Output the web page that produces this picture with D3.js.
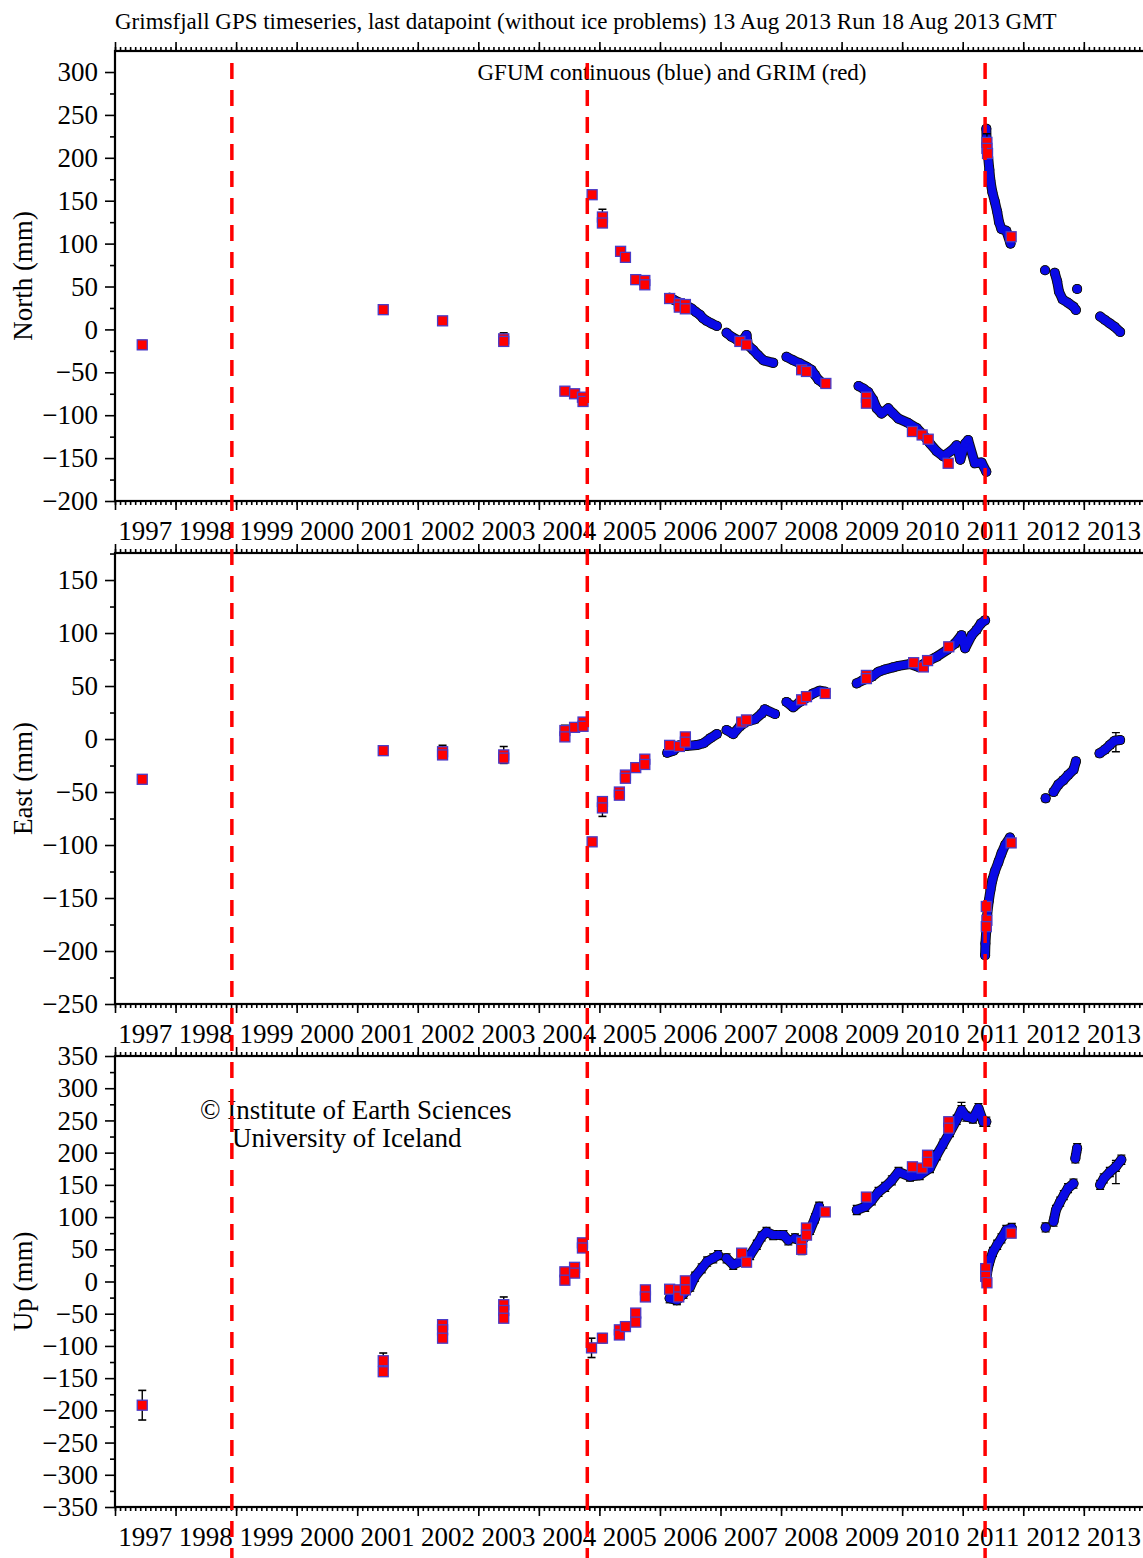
<!DOCTYPE html>
<html><head><meta charset="utf-8">
<script src="https://cdn.jsdelivr.net/npm/d3@7"></script>
<style>
body{margin:0;background:#fff}
svg{display:block}
text{font-family:"Liberation Serif","Times New Roman",serif;fill:#000}
</style>
</head><body>
<svg id="chart" width="1143" height="1558"></svg>
<script>
// ---------------- text ----------------
const titleText = "Grimsfjall GPS timeseries, last datapoint (without ice problems) 13 Aug 2013 Run 18 Aug 2013 GMT";
const subtitleText = "GFUM continuous (blue) and GRIM (red)";
const creditLines = ["\u00A9 Institute of Earth Sciences", "University of Iceland"];
const yLabels = ["North (mm)", "East (mm)", "Up (mm)"];

// ---------------- ticks ----------------
const yearLabels = [1997,1998,1999,2000,2001,2002,2003,2004,2005,2006,2007,2008,2009,2010,2011,2012,2013];
const northTicks = [-200,-150,-100,-50,0,50,100,150,200,250,300];
const eastTicks = [-250,-200,-150,-100,-50,0,50,100,150];
const upTicks = [-350,-300,-250,-200,-150,-100,-50,0,50,100,150,200,250,300,350];

// eruption markers (decimal year)
const eruptions = [1998.93, 2004.80, 2011.37];

// ---------------- GFUM continuous (blue): segments of [year, mm] ----------------
const gfumNorth = [
  [[2006.16,37],[2006.24,34],[2006.33,31],[2006.44,28],[2006.52,24.5],[2006.60,20],[2006.66,17],[2006.71,13],[2006.77,10],[2006.85,7],[2006.94,4]],
  [[2007.10,-4],[2007.18,-8.5],[2007.27,-12],[2007.35,-14],[2007.43,-6.5],[2007.45,-18],[2007.54,-24],[2007.62,-30],[2007.71,-36],[2007.87,-39]],
  [[2008.09,-32],[2008.20,-36],[2008.31,-39.5],[2008.42,-43.5],[2008.50,-47],[2008.56,-53],[2008.62,-59],[2008.70,-63]],
  [[2009.28,-66],[2009.36,-69],[2009.44,-73],[2009.52,-82],[2009.58,-92],[2009.66,-98],[2009.77,-92],[2009.85,-98],[2009.94,-104],
   [2010.10,-109],[2010.24,-115],[2010.35,-123],[2010.46,-133],[2010.57,-142],[2010.68,-148],[2010.82,-141],[2010.90,-135],
   [2010.96,-152],[2011.04,-133],[2011.09,-129],[2011.20,-156],[2011.31,-155],[2011.39,-166]],
  [[2011.39,234],[2011.395,217],[2011.42,201],[2011.44,186],[2011.46,172],[2011.49,160],[2011.53,149],[2011.57,137],[2011.60,125],
   [2011.64,117],[2011.72,115],[2011.79,100]],
  [[2012.36,69]],
  [[2012.52,66],[2012.56,56],[2012.59,44],[2012.65,35],[2012.74,31],[2012.83,26.5],[2012.87,22.6]],
  [[2012.89,47]],
  [[2013.27,15],[2013.35,11],[2013.43,7],[2013.51,3],[2013.60,-3]]
];
const gfumEast = [
  [[2006.12,-13],[2006.22,-11],[2006.32,-6],[2006.44,-6.6],[2006.61,-5.7],[2006.72,-4],[2006.83,0.7],[2006.94,4.7]],
  [[2007.10,8.5],[2007.21,4.7],[2007.32,12],[2007.43,16.3],[2007.57,18.6],[2007.68,24],[2007.73,28],[2007.90,23.6]],
  [[2008.09,35],[2008.20,30],[2008.31,35],[2008.42,39],[2008.53,43],[2008.64,45.6],[2008.73,44.6]],
  [[2009.25,52.5],[2009.36,55.7],[2009.50,58.8],[2009.61,63.5],[2009.72,65.7],[2009.85,67.6],[2009.94,69],
   [2010.13,70.8],[2010.27,68],[2010.41,73],[2010.57,77.6],[2010.74,84],[2010.87,90],[2010.98,98],[2011.04,85.6],
   [2011.15,98],[2011.23,103],[2011.30,109],[2011.37,112]],
  [[2011.37,-204],[2011.375,-193],[2011.39,-180],[2011.40,-168],[2011.43,-153],[2011.46,-142],[2011.49,-133],[2011.53,-125],
   [2011.59,-116],[2011.64,-108],[2011.70,-100],[2011.78,-93]],
  [[2012.37,-56]],
  [[2012.50,-50],[2012.58,-43],[2012.66,-39],[2012.74,-34],[2012.83,-29],[2012.87,-21]],
  [[2013.26,-13.5],[2013.35,-10],[2013.43,-5.7],[2013.51,-1.6],[2013.60,-1]]
];
const gfumUp = [
  [[2006.16,-26],[2006.28,-29],[2006.39,-19],[2006.50,-8],[2006.58,7.5],[2006.69,20.5],[2006.78,31],[2006.88,36],[2006.96,41]],
  [[2007.10,36],[2007.21,26],[2007.38,33],[2007.49,41],[2007.60,57],[2007.68,70],[2007.76,77],[2007.87,72],[2008.04,72],[2008.12,64]],
  [[2008.23,67],[2008.34,62],[2008.48,80],[2008.56,98],[2008.63,116]],
  [[2009.25,111],[2009.39,116],[2009.50,126],[2009.61,139],[2009.72,147],[2009.83,157],[2009.94,170],
   [2010.13,163],[2010.29,165],[2010.46,176],[2010.57,196],[2010.68,214],[2010.79,232],[2010.90,251],[2010.98,266],
   [2011.06,256],[2011.17,253],[2011.26,269],[2011.34,248],[2011.39,248]],
  [[2011.39,2],[2011.41,18],[2011.45,33],[2011.50,46],[2011.57,57],[2011.64,67],[2011.72,80],[2011.81,83]],
  [[2012.37,84]],
  [[2012.50,93],[2012.54,111],[2012.61,124],[2012.67,134],[2012.74,145],[2012.83,152]],
  [[2012.86,191],[2012.89,207]],
  [[2013.27,150],[2013.33,160],[2013.43,170],[2013.53,178],[2013.62,189]]
];
// representative error (mm) of the continuous daily solutions, per component N, E, U
const gfumErr = [3, 3, 7];
// occasional larger continuous error bars: [year, mm, err]
const gfumEastBars = [[2013.53,-3,9]];
const gfumUpBars = [[2013.53,170,18],[2010.98,266,12]];

// ---------------- GRIM campaign (red): [year, mm, error mm] ----------------
const grimNorth = [
  [1997.45,-18,5],[2001.43,23,3],[2002.41,10,3],[2003.42,-11,7],[2003.42,-14,4],
  [2004.43,-72,3],[2004.59,-75,3],[2004.72,-79,3],[2004.73,-84,3],[2004.88,157,3],
  [2005.05,131,9],[2005.05,124,3],[2005.35,91,4],[2005.43,84,3],[2005.60,58,3],[2005.75,57,3],[2005.75,52,3],
  [2006.16,36,3],[2006.32,30,3],[2006.32,26,3],[2006.42,29,3],[2006.42,24,3],
  [2007.32,-14,3],[2007.43,-18,3],[2008.34,-47,3],[2008.42,-49,3],[2008.74,-63,3],
  [2009.41,-79,3],[2009.41,-86,3],[2010.17,-119,3],[2010.33,-123,3],[2010.43,-128,3],[2010.76,-156,3],
  [2011.40,218,10],[2011.40,211,4],[2011.41,205,4],[2011.80,108,3]
];
const grimEast = [
  [1997.45,-38,3],[2001.43,-11,3],[2002.41,-12,6],[2002.41,-15,3],[2003.42,-15,8],[2003.42,-18,3],
  [2004.43,8,5],[2004.43,2,3],[2004.59,11,3],[2004.73,16,4],[2004.73,12,3],[2004.88,-97,3],
  [2005.05,-59,3],[2005.05,-65,8],[2005.33,-50,3],[2005.33,-53,3],[2005.43,-34,3],[2005.43,-37,3],
  [2005.60,-27,3],[2005.75,-19,3],[2005.75,-24,3],[2006.16,-6,3],[2006.32,-7,3],[2006.42,2,3],[2006.42,-3,3],
  [2007.35,16,3],[2007.43,18,3],[2008.34,37,3],[2008.42,40,3],[2008.73,43,3],
  [2009.41,60,3],[2009.41,57,3],[2010.19,72,3],[2010.35,68,3],[2010.42,74,3],[2010.77,87,3],
  [2011.39,-158,4],[2011.40,-171,4],[2011.39,-177,4],[2011.80,-98,3]
];
const grimUp = [
  [1997.45,-192,23],[2001.43,-123,12],[2001.43,-140,4],[2002.41,-67,6],[2002.41,-75,3],[2002.41,-88,4],
  [2003.42,-36,12],[2003.42,-45,3],[2003.42,-57,5],[2004.43,15,5],[2004.43,2,4],[2004.59,22,5],[2004.59,13,3],
  [2004.72,60,6],[2004.72,52,6],[2004.87,-103,15],[2005.05,-88,7],[2005.33,-75,4],[2005.33,-83,6],[2005.43,-70,5],
  [2005.60,-49,4],[2005.60,-63,4],[2005.76,-13,4],[2005.76,-24,5],[2006.16,-12,5],[2006.31,-13,4],[2006.31,-24,4],
  [2006.42,1,4],[2006.42,-13,6],[2007.35,44,4],[2007.43,30,4],[2008.34,61,4],[2008.34,50,8],[2008.42,83,6],[2008.42,72,4],
  [2008.73,108,4],[2009.41,131,6],[2010.17,178,6],[2010.33,176,4],[2010.42,196,6],[2010.42,185,4],
  [2010.77,248,6],[2010.77,238,4],[2011.38,20,4],[2011.38,8,4],[2011.40,-2,4],[2011.80,75,4]
];

// ---------------- drawing ----------------
const svg = d3.select("#chart");
const W = 1143, H = 1558;
const xLeft = 115, pxPerYear = 60.55;
const x = d3.scaleLinear().domain([1997, 2014]).range([xLeft, xLeft + 17 * pxPerYear]);
const FONT = '"Liberation Serif","Times New Roman",serif';
const FS = 27;

const panels = [
  {label: yLabels[0], top: 51, bottom: 501, domain: [-200, 324.5], ticks: northTicks, gfum: gfumNorth, grim: grimNorth, bars: [], err: gfumErr[0]},
  {label: yLabels[1], top: 553, bottom: 1004, domain: [-250, 175.5], ticks: eastTicks, gfum: gfumEast, grim: grimEast, bars: gfumEastBars, err: gfumErr[1]},
  {label: yLabels[2], top: 1056, bottom: 1507, domain: [-350, 350], ticks: upTicks, gfum: gfumUp, grim: grimUp, bars: gfumUpBars, err: gfumErr[2]}
];

const monthTicks = d3.range(0, 17 * 12 + 1).map(i => 1997 + i / 12);
const yearTicks = d3.range(1997, 2015);

function styleAxis(g) {
  g.select(".domain").remove();
  g.selectAll("line").attr("stroke", "#000").attr("stroke-width", 1.6);
  g.selectAll("text").attr("font-family", FONT).attr("font-size", FS).attr("fill", "#000");
}

panels.forEach((p, i) => {
  const y = d3.scaleLinear().domain(p.domain).range([p.bottom, p.top]);
  const g = svg.append("g");
  const clipId = "clip" + i;
  svg.append("clipPath").attr("id", clipId).append("rect")
    .attr("x", x(1997)).attr("y", p.top).attr("width", x(2014) - x(1997)).attr("height", p.bottom - p.top);

  // x axes: bottom (outward) and top (outward)
  g.append("g").attr("transform", `translate(0,${p.bottom})`)
    .call(d3.axisBottom(x).tickValues(monthTicks).tickSize(4).tickFormat("")).call(styleAxis);
  g.append("g").attr("transform", `translate(0,${p.bottom})`)
    .call(d3.axisBottom(x).tickValues(yearTicks).tickSize(9).tickFormat("")).call(styleAxis);
  g.append("g").attr("transform", `translate(0,${p.top})`)
    .call(d3.axisTop(x).tickValues(monthTicks).tickSize(4).tickFormat("")).call(styleAxis);
  g.append("g").attr("transform", `translate(0,${p.top})`)
    .call(d3.axisTop(x).tickValues(yearTicks).tickSize(9).tickFormat("")).call(styleAxis);

  // year labels centred on each year
  g.append("g").selectAll("text").data(yearLabels).join("text")
    .attr("x", d => x(d + 0.5)).attr("y", p.bottom + 39)
    .attr("text-anchor", "middle").attr("font-size", FS).text(d => d);

  // y axis
  const minor = [];
  for (let v = p.ticks[0]; v <= p.domain[1]; v += 25) if (!p.ticks.includes(v)) minor.push(v);
  g.append("g").attr("transform", `translate(${xLeft},0)`)
    .call(d3.axisLeft(y).tickValues(minor).tickSize(5).tickFormat("")).call(styleAxis);
  g.append("g").attr("transform", `translate(${xLeft},0)`)
    .call(d3.axisLeft(y).tickValues(p.ticks).tickSize(10).tickPadding(7)
      .tickFormat(d => d < 0 ? "\u2212" + Math.abs(d) : String(d))).call(styleAxis);

  // frame
  g.append("rect").attr("x", x(1997)).attr("y", p.top)
    .attr("width", x(2014) - x(1997)).attr("height", p.bottom - p.top)
    .attr("fill", "none").attr("stroke", "#000").attr("stroke-width", 2.2);

  // y label
  g.append("text").attr("transform", `translate(32,${(p.top + p.bottom) / 2}) rotate(-90)`)
    .attr("text-anchor", "middle").attr("font-size", FS).text(p.label);

  // data
  const d = g.append("g").attr("clip-path", `url(#${clipId})`);
  const line = d3.line().x(v => x(v[0])).y(v => y(v[1]));
  const gpts = p.gfum.flat().concat(p.bars);

  // GFUM: dark halo (error bars) then blue points
  d.selectAll("path.halo").data(p.gfum).join("path").attr("class", "halo")
    .attr("d", line).attr("fill", "none").attr("stroke", "#111").attr("stroke-width", 10)
    .attr("stroke-linecap", "round").attr("stroke-linejoin", "round");
  d.selectAll("line.gbar").data(gpts).join("line").attr("class", "gbar")
    .attr("x1", v => x(v[0])).attr("x2", v => x(v[0]))
    .attr("y1", v => y(v[1] + (v[2] || p.err))).attr("y2", v => y(v[1] - (v[2] || p.err)))
    .attr("stroke", "#000").attr("stroke-width", 1.3);
  d.selectAll("line.gcap").data(gpts.flatMap(v => [[v[0], v[1] + (v[2] || p.err)], [v[0], v[1] - (v[2] || p.err)]]))
    .join("line").attr("class", "gcap")
    .attr("x1", v => x(v[0]) - 4).attr("x2", v => x(v[0]) + 4)
    .attr("y1", v => y(v[1])).attr("y2", v => y(v[1]))
    .attr("stroke", "#000").attr("stroke-width", 1.3);
  d.selectAll("circle.dark").data(p.gfum.flat()).join("circle").attr("class", "dark")
    .attr("cx", v => x(v[0])).attr("cy", v => y(v[1])).attr("r", 5).attr("fill", "#111");
  d.selectAll("path.blue").data(p.gfum).join("path").attr("class", "blue")
    .attr("d", line).attr("fill", "none").attr("stroke", "#0a0ae6").attr("stroke-width", 8)
    .attr("stroke-linecap", "round").attr("stroke-linejoin", "round");
  d.selectAll("circle.blue").data(p.gfum.flat()).join("circle").attr("class", "blue")
    .attr("cx", v => x(v[0])).attr("cy", v => y(v[1])).attr("r", 4).attr("fill", "#0a0ae6");

  // GRIM: error bars then red squares with blue rim
  d.selectAll("line.rbar").data(p.grim).join("line").attr("class", "rbar")
    .attr("x1", v => x(v[0])).attr("x2", v => x(v[0]))
    .attr("y1", v => y(v[1] + v[2])).attr("y2", v => y(v[1] - v[2]))
    .attr("stroke", "#000").attr("stroke-width", 1.4);
  d.selectAll("line.rcap").data(p.grim.flatMap(v => [[v[0], v[1] + v[2]], [v[0], v[1] - v[2]]]))
    .join("line").attr("class", "rcap")
    .attr("x1", v => x(v[0]) - 4).attr("x2", v => x(v[0]) + 4)
    .attr("y1", v => y(v[1])).attr("y2", v => y(v[1]))
    .attr("stroke", "#000").attr("stroke-width", 1.6);
  d.selectAll("rect.grim").data(p.grim).join("rect").attr("class", "grim")
    .attr("x", v => x(v[0]) - 5).attr("y", v => y(v[1]) - 5)
    .attr("width", 10).attr("height", 10)
    .attr("fill", "#ff0000").attr("stroke", "#4a3cc8").attr("stroke-width", 1.3);
});

// titles
svg.append("text").attr("x", 115).attr("y", 29).attr("font-size", 23).text(titleText);
svg.append("text").attr("x", 672).attr("y", 80).attr("text-anchor", "middle").attr("font-size", 23).text(subtitleText);
svg.append("text").attr("x", 200).attr("y", 1119).attr("font-size", FS).text(creditLines[0]);
svg.append("text").attr("x", 232).attr("y", 1147).attr("font-size", FS).text(creditLines[1]);

// eruption lines on top
svg.append("g").selectAll("line").data(eruptions).join("line")
  .attr("x1", d => x(d)).attr("x2", d => x(d)).attr("y1", 63).attr("y2", H)
  .attr("stroke", "#ff0000").attr("stroke-width", 3.5).attr("stroke-dasharray", "16,11");
</script>
</body></html>
